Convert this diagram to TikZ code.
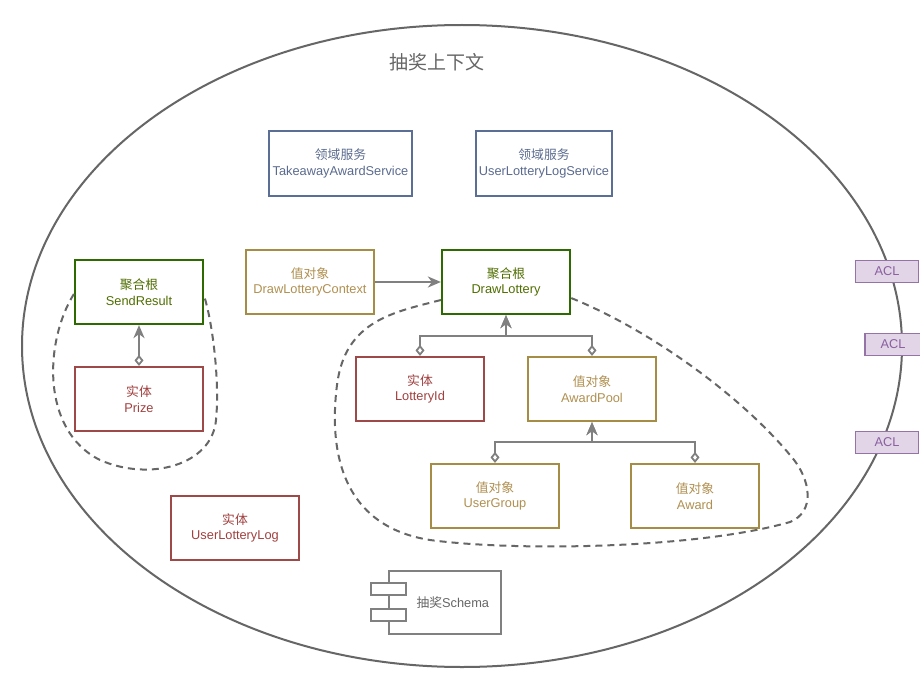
\documentclass[tikz,border=0pt]{standalone}
\usepackage{fontspec}
\setmainfont{Liberation Sans}
\newfontfamily\cjk{Noto Sans CJK SC}
\usetikzlibrary{arrows.meta}
\definecolor{lgray}{HTML}{808080}
\definecolor{dgray}{HTML}{666666}
\definecolor{bluec}{HTML}{5A6E96}
\definecolor{bluet}{HTML}{5B6B8F}
\definecolor{greenc}{HTML}{2D6A00}
\definecolor{greent}{HTML}{506E00}
\definecolor{redc}{HTML}{9E4848}
\definecolor{redt}{HTML}{A0403F}
\definecolor{goldc}{HTML}{A68D46}
\definecolor{goldt}{HTML}{B09050}
\definecolor{aclfill}{HTML}{E1D5E7}
\definecolor{aclc}{HTML}{9673A6}
\definecolor{aclt}{HTML}{8A5FA0}
\tikzset{
  base/.style={draw, line width=2.2pt, minimum width=128pt, minimum height=64pt, inner sep=0pt, align=center, font=\fontsize{12.8}{15.5}\selectfont},
  bluebox/.style={base, draw=bluec, text=bluet},
  greenbox/.style={base, draw=greenc, text=greent},
  redbox/.style={base, draw=redc, text=redt},
  goldbox/.style={base, draw=goldc, text=goldt},
  aclbox/.style={draw=aclc, fill=aclfill, text=aclt, line width=1.8pt, minimum width=63pt, minimum height=22pt, inner sep=0pt, font=\fontsize{12.8}{14}\selectfont},
  conn/.style={draw=lgray, line width=2.2pt},
  headtip/.style={-{Stealth[length=13pt,width=11pt,inset=4pt]}},
  agg/.style={conn, {Diamond[open,length=11pt,width=9pt,line width=1.8pt]}-{Stealth[length=13pt,width=11pt,inset=4pt]}},
  boundary/.style={draw=dgray, line width=2pt, dash pattern=on 7pt off 5pt},
  comp/.style={draw=lgray, line width=2.2pt, fill=white, inner sep=0pt}
}
\begin{document}
\begin{tikzpicture}[x=1pt,y=-1pt]
\useasboundingbox[fill=white] (0,0) rectangle (920,682);
% context ellipse
\draw[dgray, line width=2pt] (462,346) ellipse [x radius=440, y radius=321];
\node[text=dgray, font=\cjk\fontsize{19}{21}\selectfont] (title) at (437,62) {抽奖上下文};

% domain services
\node[bluebox, minimum width=143pt, minimum height=65pt] (tas) at (340.5,163.5) {{\cjk 领域服务}\\TakeawayAwardService};
\node[bluebox, minimum width=136pt, minimum height=65pt] (ulls) at (544,163.5) {{\cjk 领域服务}\\UserLotteryLogService};

% left aggregate
\node[greenbox] (sr) at (139,292) {{\cjk 聚合根}\\SendResult};
\node[redbox] (prize) at (139,399) {{\cjk 实体}\\Prize};
\draw[agg] (prize.north) -- (sr.south);

% main aggregate
\node[goldbox] (ctx) at (310,282) {{\cjk 值对象}\\DrawLotteryContext};
\node[greenbox] (dl) at (506,282) {{\cjk 聚合根}\\DrawLottery};
\node[redbox] (lid) at (420,389) {{\cjk 实体}\\LotteryId};
\node[goldbox] (pool) at (592,389) {{\cjk 值对象}\\AwardPool};
\node[goldbox] (ug) at (495,496) {{\cjk 值对象}\\UserGroup};
\node[goldbox] (aw) at (695,496) {{\cjk 值对象}\\Award};

\draw[conn, headtip] (ctx.east) -- (dl.west);
\draw[agg] (lid.north) -- ++(0,-20) -| (dl.south);
\draw[agg] (pool.north) -- ++(0,-20) -| (dl.south);
\draw[agg] (ug.north) -- ++(0,-21) -| (pool.south);
\draw[agg] (aw.north) -- ++(0,-21) -| (pool.south);

% other entity
\node[redbox] (ull) at (235,528) {{\cjk 实体}\\UserLotteryLog};

% schema component
\node[comp, minimum width=112pt, minimum height=63pt] (schema) at (445,602.5) {};
\node[text=dgray, font=\fontsize{12.8}{14}\selectfont, anchor=west] (schemat) at (413,603) {{\cjk 抽奖}Schema};
\node[comp, minimum width=35pt, minimum height=12pt] (c1) at (388.5,589) {};
\node[comp, minimum width=35pt, minimum height=12pt] (c2) at (388.5,615) {};

% ACLs
\node[aclbox] (acl1) at (887,271.5) {ACL};
\node[aclbox, minimum width=56pt] (acl2) at (893,344.5) {ACL};
\node[aclbox] (acl3) at (887,442.5) {ACL};

% aggregate boundaries
\draw[boundary] (sr.west |- 0,294) .. controls (45,340) and (40,430) .. (100,460)
  .. controls (150,482) and (212,465) .. (216,420)
  .. controls (220,380) and (212,320) .. (sr.east |- 0,296);
\draw[boundary] (dl.west |- 0,300) .. controls (395,312) and (345,320) .. (337,385)
  .. controls (330,440) and (335,525) .. (430,540)
  .. controls (520,552) and (700,548) .. (790,522)
  .. controls (815,512) and (812,480) .. (790,455)
  .. controls (740,395) and (650,330) .. (dl.east |- 0,298);
\end{tikzpicture}
\end{document}
